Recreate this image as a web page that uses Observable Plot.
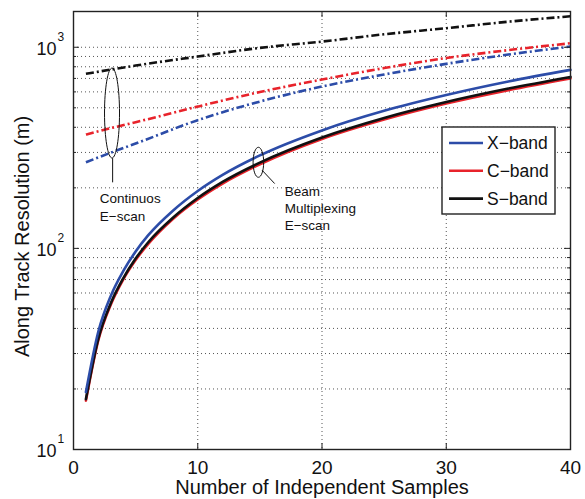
<!DOCTYPE html>
<html><head><meta charset="utf-8">
<script src="https://cdn.jsdelivr.net/npm/d3@7"></script>
<script src="https://cdn.jsdelivr.net/npm/@observablehq/plot@0.6"></script>
<style>body{margin:0;background:#fff;} svg{display:block;}</style>
</head><body><div id="chart"></div>
<script>
// ---- data ----
const samplesMux = [1, 2, 3, 4, 5, 6, 8, 10, 12, 15, 20, 25, 30, 35, 40];
const xBandMux = [19.3, 38.6, 58, 77, 96.5, 116, 154, 193, 232, 290, 386, 483, 579, 676, 772];
const cBandMux = [17.5, 35, 52.5, 70, 87.5, 105, 140, 175, 210, 262, 350, 437, 525, 612, 700];
const sBandMux = [17.8, 35.6, 53.4, 71, 89, 107, 142, 178, 214, 267, 356, 445, 534, 623, 712];

const samplesCont = [1, 3, 5, 10, 15, 20, 25, 30, 35, 40];
const xBandCont = [268, 299, 332, 434, 537, 638, 732, 827, 920, 1008];
const cBandCont = [368, 396, 424, 507, 599, 691, 788, 884, 968, 1047];
const sBandCont = [738, 774, 811, 899, 993, 1067, 1160, 1244, 1340, 1426];

const bandNames = ["X\u2212band", "C\u2212band", "S\u2212band"];
const bandColors = ["#2c4ca8", "#e8232b", "#111111"];

const xTickValues = [0, 10, 20, 30, 40];
const yTickValues = [10, 100, 1000];
const yTickExponents = ["1", "2", "3"];
const yMinorValues = [20, 30, 40, 50, 60, 70, 80, 90, 200, 300, 400, 500, 600, 700, 800, 900];

const contAnnotation = {ellipse: {n: 3.1, v: 471}, from: {n: 3.15, v: 281}, to: {n: 3.15, v: 213}, label: {n: 2.12, v: 194}, text: "Continuos\nE\u2212scan"};
const muxAnnotation = {ellipse: {n: 14.88, v: 268}, from: {n: 15.17, v: 245}, to: {n: 16.19, v: 210}, label: {n: 17.0, v: 208}, text: "Beam\nMultiplexing\nE\u2212scan"};

// ---- build rows ----
function rows(ns, vals, band) { return ns.map((n, i) => ({n, v: vals[i], band})); }
const muxRows = [
  ...rows(samplesMux, cBandMux, bandNames[1]),
  ...rows(samplesMux, sBandMux, bandNames[2]),
  ...rows(samplesMux, xBandMux, bandNames[0])
];
const contRows = [
  ...rows(samplesCont, sBandCont, bandNames[2]),
  ...rows(samplesCont, cBandCont, bandNames[1]),
  ...rows(samplesCont, xBandCont, bandNames[0])
];

function ellipseSymbol(rx, ry) {
  const k = 0.5523;
  return {draw(ctx) {
    ctx.moveTo(rx, 0);
    ctx.bezierCurveTo(rx, k * ry, k * rx, ry, 0, ry);
    ctx.bezierCurveTo(-k * rx, ry, -rx, k * ry, -rx, 0);
    ctx.bezierCurveTo(-rx, -k * ry, -k * rx, -ry, 0, -ry);
    ctx.bezierCurveTo(k * rx, -ry, rx, -k * ry, rx, 0);
    ctx.closePath();
  }};
}

const W = 585, H = 499, mL = 73, mR = 15, mT = 11, mB = 50;
const fw = W - mL - mR, fh = H - mT - mB;
const gridStyle = {stroke: "#555", strokeWidth: 1, strokeDasharray: "1,3"};
const color = {domain: bandNames, range: bandColors};

const svg = Plot.plot({
  width: W, height: H,
  marginLeft: mL, marginRight: mR, marginTop: mT, marginBottom: mB,
  style: {fontFamily: "'Liberation Sans', Arial, sans-serif", background: "white", color: "#111"},
  x: {domain: [0, 40], axis: null},
  y: {type: "log", domain: [10, 1506], axis: null},
  color,
  marks: [
    Plot.ruleX([10, 20, 30], gridStyle),
    Plot.ruleY([...yMinorValues, 100, 1000], gridStyle),
    Plot.line(contRows, {x: "n", y: "v", z: "band", stroke: "band", strokeWidth: 2.6, strokeDasharray: "8,3,2,3", strokeLinecap: "butt", curve: "monotone-x"}),
    Plot.line(muxRows, {x: "n", y: "v", z: "band", stroke: "band", strokeWidth: 2.6, curve: "monotone-x"}),
    Plot.frame({stroke: "#222", strokeWidth: 1.4}),
    // inward ticks
    Plot.ruleX([10, 20, 30], {insetTop: fh - 6, stroke: "#222"}),
    Plot.ruleX([10, 20, 30], {insetBottom: fh - 6, stroke: "#222"}),
    Plot.ruleY(yTickValues, {insetRight: fw - 6, stroke: "#222"}),
    Plot.ruleY(yTickValues, {insetLeft: fw - 6, stroke: "#222"}),
    Plot.ruleY(yMinorValues, {insetRight: fw - 3, stroke: "#222"}),
    Plot.ruleY(yMinorValues, {insetLeft: fw - 3, stroke: "#222"}),
    // tick labels
    Plot.text(xTickValues, {x: d => d, text: d => String(d), frameAnchor: "bottom", dy: 18, fontSize: 19, lineAnchor: "middle", textAnchor: "middle"}),
    Plot.text(yTickValues, {y: d => d, text: () => "10", frameAnchor: "left", textAnchor: "end", dx: -17, dy: 2, fontSize: 18, lineAnchor: "middle"}),
    Plot.text(yTickValues, {y: d => d, text: (d, i) => yTickExponents[i], frameAnchor: "left", textAnchor: "start", dx: -16, dy: -10, fontSize: 12, lineAnchor: "middle"}),
    // axis titles
    Plot.text(["Number of Independent Samples"], {text: d => d, frameAnchor: "bottom", dy: 38, fontSize: 20, lineAnchor: "middle", textAnchor: "middle"}),
    Plot.text(["Along Track Resolution (m)"], {text: d => d, frameAnchor: "left", rotate: -90, dx: -51, dy: 6, fontSize: 20, lineAnchor: "middle", textAnchor: "middle"}),
    // annotations
    Plot.dot([contAnnotation.ellipse], {x: "n", y: "v", r: 5, symbol: ellipseSymbol(7.5, 45), stroke: "#111", strokeWidth: 1, fill: "none"}),
    Plot.link([contAnnotation], {x1: d => d.from.n, y1: d => d.from.v, x2: d => d.to.n, y2: d => d.to.v, stroke: "#111", strokeWidth: 1}),
    Plot.text([contAnnotation], {x: d => d.label.n, y: d => d.label.v, text: "text", textAnchor: "start", lineAnchor: "top", fontSize: 13.5, lineHeight: 1.33}),
    Plot.dot([muxAnnotation.ellipse], {x: "n", y: "v", r: 5, symbol: ellipseSymbol(5.3, 15), stroke: "#111", strokeWidth: 1, fill: "none"}),
    Plot.link([muxAnnotation], {x1: d => d.from.n, y1: d => d.from.v, x2: d => d.to.n, y2: d => d.to.v, stroke: "#111", strokeWidth: 1}),
    Plot.text([muxAnnotation], {x: d => d.label.n, y: d => d.label.v, text: "text", textAnchor: "start", lineAnchor: "top", fontSize: 13.5, lineHeight: 1.24})
  ]
});

// legend (inside the plot frame, top-right region)
const lg = d3.select(svg).append("g").attr("transform", "translate(442,127)");
lg.append("rect").attr("width", 113).attr("height", 87).attr("fill", "white").attr("stroke", "#222").attr("stroke-width", 1.4);
bandNames.forEach((name, i) => {
  const y = 16 + i * 27.8;
  lg.append("line").attr("x1", 7).attr("x2", 41).attr("y1", y).attr("y2", y)
    .attr("stroke", bandColors[i]).attr("stroke-width", 2.6);
  lg.append("text").attr("x", 45).attr("y", y).attr("dy", "0.35em")
    .attr("text-anchor", "start")
    .attr("font-size", 17.5).attr("fill", "#111").text(name);
});

document.getElementById("chart").appendChild(svg);
</script>
</body></html>
